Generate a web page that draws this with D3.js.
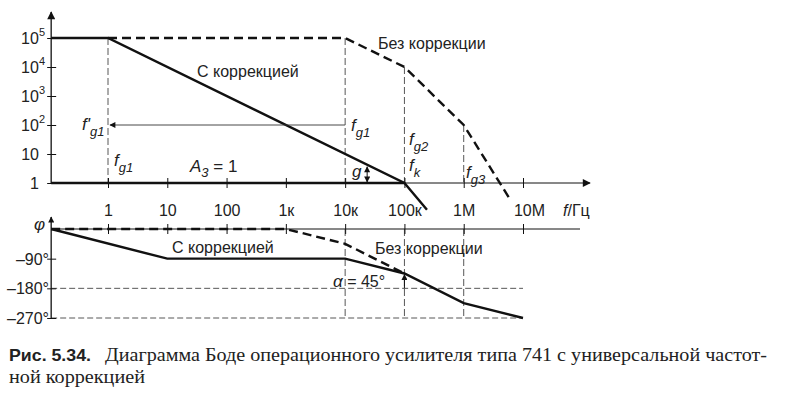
<!DOCTYPE html>
<html><head><meta charset="utf-8">
<script src="https://cdn.jsdelivr.net/npm/d3@7"></script>
<style>
body{margin:0;background:#fff;}
svg{display:block;}
text{fill:#222;}
</style></head>
<body>
<svg id="c" width="786" height="398" font-family="Liberation Sans, Arial, sans-serif"></svg>
<script>
// ---------- data ----------
const freqTicks = [1, 10, 100, 1e3, 1e4, 1e5, 1e6, 1e7];
const freqLabels = ["1", "10", "100", "1к", "10к", "100к", "1M", "10M"];
const magTicks = [1, 10, 100, 1e3, 1e4, 1e5];
const magLabels = [["1", ""], ["10", ""], ["10", "2"], ["10", "3"], ["10", "4"], ["10", "5"]];
const phaseTicks = [-90, -180, -270];
const phaseLabels = ["–90°", "–180°", "–270°"];
const fStart = 0.11;
const fAxisEnd = 1.35e8;
// magnitude, with compensation (f, A)
const magWith = [[fStart, 1e5], [1, 1e5], [1e5, 1], [2.4e5, 0.12]];
// magnitude, without compensation
const magWithout = [[1, 1e5], [1e4, 1e5], [1e5, 1e4], [1e6, 100], [6e6, 0.28]];
// unity-gain line
const unityLine = [[fStart, 1], [1e5, 1]];
// phase, with compensation (f, deg)
const phaseWith = [[fStart, 0], [10, -90], [1e4, -90], [1e5, -135], [1e6, -225], [1e7, -270]];
// phase, without compensation
const phaseWithout = [[fStart, 0], [1e3, 0], [1e4, -45], [1e5, -135]];
// reference verticals: [f, fromA, toA]
const magVerticals = [[1, 1e5, 1], [1e4, 1e5, 1], [1e5, 1e4, 1], [1e6, 100, 1]];
const phaseVerticals = [1e4, 1e5, 1e6];
const phaseHLines = [-180, -270];

// ---------- scales ----------
const svg = d3.select("#c");
const x = d3.scaleLog().domain([1, 1e7]).range([108, 523]);
const yM = d3.scaleLog().domain([1, 1e5]).range([183, 38]);
const yP = d3.scaleLinear().domain([0, -270]).range([229, 318]);
const X0 = x(fStart);
const ink = "#111";
const SANS = "Liberation Sans, Arial, sans-serif";
const SERIF = "Liberation Serif, Times New Roman, serif";

const defs = svg.append("defs");
function marker(id, w, h) {
  defs.append("marker").attr("id", id).attr("viewBox", "0 0 10 10").attr("refX", 9).attr("refY", 5)
    .attr("markerWidth", w).attr("markerHeight", h).attr("orient", "auto-start-reverse")
    .attr("markerUnits", "userSpaceOnUse")
    .append("path").attr("d", "M0,0 L10,5 L0,10 z").attr("fill", ink);
}
marker("ax", 12, 8);
marker("sm", 10, 6);

// ---------- magnitude plot ----------
const gM = svg.append("g");
gM.selectAll("line.v").data(magVerticals).join("line")
  .attr("x1", d => x(d[0])).attr("x2", d => x(d[0]))
  .attr("y1", d => yM(d[1])).attr("y2", d => yM(d[2]))
  .attr("stroke", "#444").attr("stroke-width", 0.9).attr("stroke-dasharray", "7,3");

const axM = d3.axisBottom(x).tickValues(freqTicks).tickFormat((d, i) => freqLabels[i]).tickSize(5);
const gAxM = gM.append("g").attr("transform", `translate(0,${yM(1)})`).call(axM);
gAxM.select(".domain").remove();
gAxM.selectAll(".tick line").attr("y1", -5).attr("y2", 5).attr("stroke", ink).attr("stroke-width", 1);
gAxM.selectAll(".tick text").attr("font-size", 16).attr("fill", "#222").attr("font-family", SANS)
  .attr("y", 33).attr("dy", 0);
gAxM.selectAll(".tick").filter(d => d === 1e7).select("text").attr("dx", 6);
gM.append("line").attr("x1", X0).attr("x2", x(fAxisEnd)).attr("y1", yM(1)).attr("y2", yM(1))
  .attr("stroke", ink).attr("stroke-width", 1).attr("marker-end", "url(#ax)");
gM.append("line").attr("x1", X0).attr("x2", X0).attr("y1", yM(1)).attr("y2", 12)
  .attr("stroke", ink).attr("stroke-width", 1.3).attr("marker-end", "url(#ax)");
const axY = d3.axisLeft(yM).tickValues(magTicks).tickFormat("").tickSize(4);
const gAxY = gM.append("g").attr("transform", `translate(${X0},0)`).call(axY);
gAxY.select(".domain").remove();
gAxY.selectAll(".tick line").attr("x1", -4).attr("x2", 5).attr("stroke", ink);
const yl = gM.selectAll("text.yl").data(magTicks).join("text")
  .attr("x", 45).attr("y", d => yM(d) + 6).attr("text-anchor", "end").attr("font-size", 16);
yl.each(function (d, i) {
  const t = d3.select(this);
  const [b, s] = magLabels[i];
  if (s) {
    t.append("tspan").text(b);
    t.append("tspan").text(s).attr("font-size", 11).attr("dy", -8);
  } else {
    t.attr("x", 39).text(b);
  }
});

const lineM = d3.line().x(d => x(d[0])).y(d => yM(d[1]));
gM.append("path").datum(unityLine).attr("d", lineM).attr("fill", "none").attr("stroke", ink).attr("stroke-width", 2.6);
gM.append("path").datum(magWith).attr("d", lineM).attr("fill", "none").attr("stroke", ink).attr("stroke-width", 2.4);
gM.append("path").datum(magWithout).attr("d", lineM).attr("fill", "none").attr("stroke", ink).attr("stroke-width", 2.4).attr("stroke-dasharray", "9,5");

gM.append("line").attr("x1", x(1e4)).attr("x2", x(1) + 2).attr("y1", yM(100)).attr("y2", yM(100))
  .attr("stroke", "#333").attr("stroke-width", 0.9).attr("marker-end", "url(#sm)");
const gx = x(2.35e4);
gM.append("line").attr("x1", gx).attr("x2", gx).attr("y1", yM(1) - 1).attr("y2", yM(1e5 / 2.35e4) + 2)
  .attr("stroke", ink).attr("stroke-width", 1).attr("marker-end", "url(#sm)").attr("marker-start", "url(#sm)");

function fLabel(g, px, py, sub, prime) {
  const t = g.append("text").attr("x", px).attr("y", py).attr("font-size", 17).attr("font-style", "italic");
  t.append("tspan").text(prime ? "f'" : "f");
  t.append("tspan").text(sub).attr("font-size", 13).attr("dy", 6);
}
fLabel(gM, 82, 130, "g1", true);
fLabel(gM, 114, 166, "g1");
fLabel(gM, 351, 131, "g1");
fLabel(gM, 409, 145, "g2");
fLabel(gM, 409, 171, "k");
fLabel(gM, 466, 178, "g3");
gM.append("text").attr("x", 352).attr("y", 177).attr("font-size", 17).attr("font-style", "italic").text("g");
const aT = gM.append("text").attr("x", 190).attr("y", 172).attr("font-size", 17);
aT.append("tspan").text("A").attr("font-style", "italic");
aT.append("tspan").text("3").attr("font-style", "italic").attr("font-size", 13).attr("dy", 5);
aT.append("tspan").text(" = 1").attr("dy", -5);
gM.append("text").attr("x", 197).attr("y", 77).attr("font-size", 16).text("С коррекцией");
gM.append("text").attr("x", 378).attr("y", 49).attr("font-size", 16).text("Без коррекции");
const fu = gM.append("text").attr("x", 563).attr("y", 216).attr("font-size", 16);
fu.append("tspan").text("f").attr("font-style", "italic");
fu.append("tspan").text("/Гц");

// ---------- phase plot ----------
const gP = svg.append("g");
gP.selectAll("line.pv").data(phaseVerticals).join("line")
  .attr("x1", d => x(d)).attr("x2", d => x(d)).attr("y1", yP(0)).attr("y2", yP(-270))
  .attr("stroke", "#444").attr("stroke-width", 0.9).attr("stroke-dasharray", "7,3");
gP.selectAll("line.ph").data(phaseHLines).join("line")
  .attr("x1", X0).attr("x2", x(1e7)).attr("y1", d => yP(d)).attr("y2", d => yP(d))
  .attr("stroke", "#444").attr("stroke-width", 0.9).attr("stroke-dasharray", "6,3");
const axP = d3.axisBottom(x).tickValues(freqTicks).tickFormat("").tickSize(5);
const gAxP = gP.append("g").attr("transform", `translate(0,${yP(0)})`).call(axP);
gAxP.select(".domain").remove();
gAxP.selectAll(".tick line").attr("y1", -5).attr("y2", 5).attr("stroke", ink);
gP.append("line").attr("x1", X0).attr("x2", 580).attr("y1", yP(0)).attr("y2", yP(0)).attr("stroke", ink).attr("stroke-width", 1);
gP.append("line").attr("x1", X0).attr("x2", X0).attr("y1", yP(-270)).attr("y2", 217)
  .attr("stroke", ink).attr("stroke-width", 1.3).attr("marker-end", "url(#sm)");
const axPY = d3.axisLeft(yP).tickValues(phaseTicks).tickFormat("").tickSize(4);
const gAxPY = gP.append("g").attr("transform", `translate(${X0},0)`).call(axPY);
gAxPY.select(".domain").remove();
gAxPY.selectAll(".tick line").attr("x1", -4).attr("x2", 5).attr("stroke", ink);
gP.selectAll("text.pl").data(phaseTicks).join("text")
  .attr("x", 49).attr("y", d => yP(d) + 6).attr("text-anchor", "end").attr("font-size", 16)
  .text((d, i) => phaseLabels[i]);
gP.append("text").attr("x", 34).attr("y", 230).attr("font-size", 17).attr("font-style", "italic").text("φ");

const lineP = d3.line().x(d => x(d[0])).y(d => yP(d[1]));
gP.append("path").datum(phaseWith).attr("d", lineP).attr("fill", "none").attr("stroke", ink).attr("stroke-width", 2.4);
gP.append("path").datum(phaseWithout).attr("d", lineP).attr("fill", "none").attr("stroke", ink).attr("stroke-width", 2.4).attr("stroke-dasharray", "9,5");
gP.append("line").attr("x1", x(1e5)).attr("x2", x(1e5)).attr("y1", yP(-180)).attr("y2", yP(-135) + 1)
  .attr("stroke", ink).attr("stroke-width", 1).attr("marker-end", "url(#sm)");
const al = gP.append("text").attr("x", 333).attr("y", 287).attr("font-size", 16);
al.append("tspan").text("α").attr("font-style", "italic").attr("font-size", 17);
al.append("tspan").text(" = 45°");
gP.append("text").attr("x", 172).attr("y", 253).attr("font-size", 16).text("С коррекцией");
gP.append("text").attr("x", 375).attr("y", 254).attr("font-size", 16).text("Без коррекции");

// ---------- caption ----------
svg.append("text").attr("x", 9).attr("y", 361).attr("font-size", 17).attr("font-weight", "bold")
  .attr("font-family", SANS).attr("textLength", 82).attr("lengthAdjust", "spacingAndGlyphs").text("Рис. 5.34.");
svg.append("text").attr("x", 105).attr("y", 361).attr("font-size", 19)
  .attr("font-family", SERIF)
  .attr("textLength", 662).attr("lengthAdjust", "spacingAndGlyphs")
  .text("Диаграмма Боде операционного усилителя типа 741 с универсальной частот-");
svg.append("text").attr("x", 9).attr("y", 383).attr("font-size", 19)
  .attr("font-family", SERIF)
  .attr("textLength", 136).attr("lengthAdjust", "spacingAndGlyphs")
  .text("ной коррекцией");
</script>
</body></html>
